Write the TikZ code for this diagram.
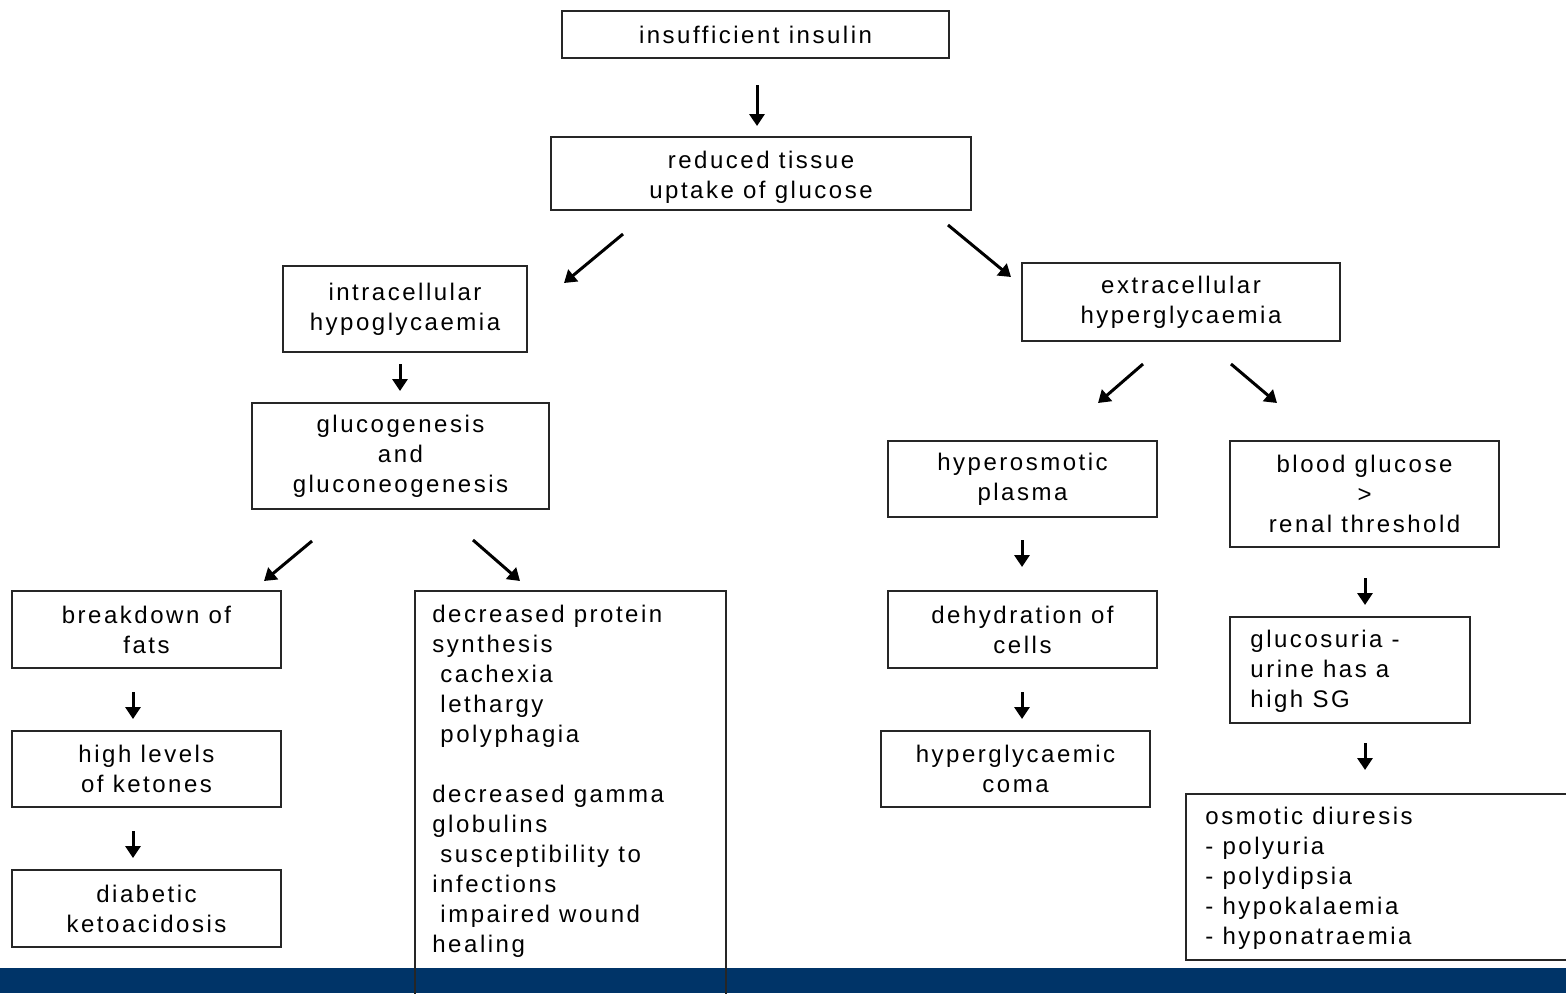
\documentclass[tikz,border=0pt]{standalone}
\usepackage{fontspec}
\setmainfont{Liberation Sans}[LetterSpace=10.5]
\usetikzlibrary{arrows.meta}
\definecolor{barblue}{RGB}{0,52,104}
\tikzset{
  box/.style={draw=black!85, line width=1pt, inner sep=0pt, align=center,
    font=\fontsize{12}{15}\selectfont},
  ltxt/.style={inner sep=0pt, align=left, font=\fontsize{12}{15}\selectfont},
  arr/.style={line width=1.5pt, -{Triangle[length=6pt,width=7.5pt]}}
}
\begin{document}
\begin{tikzpicture}[x=0.5pt,y=-0.5pt]
\useasboundingbox (0,0) rectangle (1566,993);
\fill[barblue] (0,968) rectangle (1566,993);
% top
\node[box, minimum width=193.5pt, minimum height=23.5pt] (ins) at (755.5,34.5) {insufficient insulin};
\node[box, minimum width=210pt, minimum height=36.5pt] (red) at (761,173.5) {};
\node[inner sep=0pt, align=center, font=\fontsize{12}{15}\selectfont] (redt) at (761,177) {reduced tissue\\uptake of glucose};
\node[box, minimum width=122pt, minimum height=43pt] (intra) at (405,309) {intracellular\\hypoglycaemia};
\node[box, minimum width=159pt, minimum height=39pt] (extra) at (1181,302) {extracellular\\hyperglycaemia};
\node[box, minimum width=148.5pt, minimum height=53pt] (gluco) at (400.5,456) {glucogenesis\\and\\gluconeogenesis};
% left column
\node[box, minimum width=134.5pt, minimum height=38.5pt] (fats) at (146.5,629.5) {breakdown of\\fats};
\node[box, minimum width=134.5pt, minimum height=38pt] (ket) at (146.5,769) {high levels\\of ketones};
\node[box, minimum width=134.5pt, minimum height=38.5pt] (dka) at (146.5,908.5) {diabetic\\ketoacidosis};
% protein box
\node[box, minimum width=155.5pt, minimum height=214.5pt] (prot) at (570.5,805.5) {};
\node[ltxt, anchor=north west] (prott) at (432,605) {decreased protein\\synthesis\\\hspace{4pt}cachexia\\\hspace{4pt}lethargy\\\hspace{4pt}polyphagia\\[15pt]decreased gamma\\globulins\\\hspace{4pt}susceptibility to\\infections\\\hspace{4pt}impaired wound\\healing};
% right side
\node[box, minimum width=134.5pt, minimum height=38pt] (osm) at (1022.5,479) {hyperosmotic\\plasma};
\node[box, minimum width=134.5pt, minimum height=53pt] (bg) at (1364.5,494) {blood glucose\\{>}\\renal threshold};
\node[box, minimum width=134.5pt, minimum height=38.5pt] (dehy) at (1022.5,629.5) {dehydration of\\cells};
\node[box, minimum width=134.5pt, minimum height=38pt] (coma) at (1015.5,769) {hyperglycaemic\\coma};
\node[box, minimum width=120pt, minimum height=53pt] (gsu) at (1350,670) {};
\node[ltxt, anchor=west] (gsut) at (1250,671) {glucosuria -\\urine has a\\high SG};
\node[box, minimum width=207pt, minimum height=83pt] (od) at (1393,877) {};
\node[ltxt, anchor=west] (odt) at (1205,878) {osmotic diuresis\\- polyuria\\- polydipsia\\- hypokalaemia\\- hyponatraemia};
% arrow coordinates
\coordinate (a1s) at (757,85);   \coordinate (a1e) at (757,126);
\coordinate (a2s) at (623,234);  \coordinate (a2e) at (564,283);
\coordinate (a3s) at (948,225);  \coordinate (a3e) at (1011,277);
\coordinate (a4s) at (400,364);  \coordinate (a4e) at (400,391);
\coordinate (a5s) at (312,541);  \coordinate (a5e) at (264,581);
\coordinate (a6s) at (473,540);  \coordinate (a6e) at (520,581);
\coordinate (a7s) at (133,692);  \coordinate (a7e) at (133,719);
\coordinate (a8s) at (133,831);  \coordinate (a8e) at (133,858);
\coordinate (a9s) at (1143,364); \coordinate (a9e) at (1098,403);
\coordinate (a10s) at (1231,364); \coordinate (a10e) at (1277,403);
\coordinate (a11s) at (1022,540); \coordinate (a11e) at (1022,567);
\coordinate (a12s) at (1022,692); \coordinate (a12e) at (1022,719);
\coordinate (a13s) at (1365,578); \coordinate (a13e) at (1365,605);
\coordinate (a14s) at (1365,743); \coordinate (a14e) at (1365,770);
\foreach \i in {1,...,14} \draw[arr] (a\i s) -- (a\i e);
\end{tikzpicture}
\end{document}
